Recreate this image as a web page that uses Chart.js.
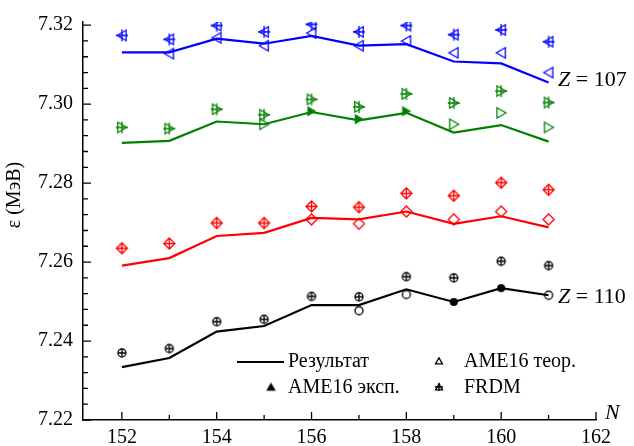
<!DOCTYPE html>
<html>
<head>
<meta charset="utf-8">
<script src="https://cdn.jsdelivr.net/npm/chart.js@4.4.1/dist/chart.umd.min.js"></script>
<style>
  html, body { margin: 0; padding: 0; background: #fff; }
</style>
</head>
<body>
<canvas id="chart" width="634" height="446"></canvas>
<script>
const N = [152, 153, 154, 155, 156, 157, 158, 159, 160, 161];

// Z = 107 (blue)
const res107  = [7.3131, 7.3131, 7.3166, 7.3153, 7.3173, 7.3148, 7.3152, 7.3108, 7.3103, 7.3055];
const teor107 = [null, 7.3128, 7.3168, 7.3148, 7.3180, 7.3148, 7.3160, 7.3130, 7.3130, 7.3080];
const frdm107 = [7.3174, 7.3164, 7.3199, 7.3183, 7.3202, 7.3183, 7.3199, 7.3176, 7.3188, 7.3158];

// Z = 108 (green)
const res108  = [7.2902, 7.2907, 7.2956, 7.2949, 7.2980, 7.2959, 7.2978, 7.2928, 7.2947, 7.2905];
const exp108  = [null, null, null, null, 7.2982, 7.2962, 7.2982, null, null, null];
const teor108 = [null, null, null, 7.2949, null, null, null, 7.2949, 7.2978, 7.2941];
const frdm108 = [7.2941, 7.2938, 7.2987, 7.2973, 7.3012, 7.2993, 7.3026, 7.3003, 7.3033, 7.3004];

// Z = 109 (red)
const res109  = [7.2591, 7.2610, 7.2666, 7.2674, 7.2712, 7.2708, 7.2728, 7.2697, 7.2716, 7.2688];
const teor109 = [null, null, null, null, 7.2708, 7.2697, 7.2728, 7.2708, 7.2728, 7.2708];
const frdm109 = [7.2635, 7.2647, 7.2699, 7.2699, 7.2741, 7.2739, 7.2774, 7.2768, 7.2801, 7.2783];

// Z = 110 (black)
const res110  = [7.2334, 7.2357, 7.2424, 7.2438, 7.2491, 7.2491, 7.2531, 7.2499, 7.2534, 7.2516];
const exp110  = [null, null, null, null, null, null, null, 7.2499, 7.2534, null];
const teor110 = [null, null, null, null, null, 7.2477, 7.2518, null, null, 7.2516];
const frdm110 = [7.2370, 7.2381, 7.2449, 7.2455, 7.2513, 7.2512, 7.2563, 7.2560, 7.2602, 7.2591];

const xTicks = [152, 154, 156, 158, 160, 162];
const xMinor = [153, 155, 157, 159, 161];
const yTicks = [7.22, 7.24, 7.26, 7.28, 7.30, 7.32];

const FONT = '"Liberation Serif", "Times New Roman", serif';

// small canvas markers: triangles, diamonds, circles, optionally filled or crossed
function marker(shape, color, fill, cross, size) {
  const c = document.createElement('canvas');
  c.width = c.height = size + 4;
  const g = c.getContext('2d');
  const m = c.width / 2, r = size / 2;
  g.strokeStyle = color;
  g.fillStyle = color;
  g.lineWidth = 1.3;
  g.beginPath();
  if (shape === 'circle') {
    g.arc(m, m, r, 0, Math.PI * 2);
  } else if (shape === 'diamond') {
    g.moveTo(m, m - r); g.lineTo(m + r, m); g.lineTo(m, m + r); g.lineTo(m - r, m);
    g.closePath();
  } else {
    const a = { left: Math.PI, right: 0, up: -Math.PI / 2 }[shape];
    const dx = shape === 'left' ? r * 0.2 : shape === 'right' ? -r * 0.2 : 0;
    const dy = shape === 'up' ? r * 0.2 : 0;
    for (let i = 0; i < 3; i++) {
      const t = a + i * 2 * Math.PI / 3;
      const px = m + r * Math.cos(t) + dx;
      const py = m + r * Math.sin(t) + dy;
      i ? g.lineTo(px, py) : g.moveTo(px, py);
    }
    g.closePath();
  }
  if (fill) g.fill(); else g.stroke();
  if (cross) {
    g.beginPath();
    g.moveTo(m - r, m); g.lineTo(m + r, m);
    g.moveTo(m, m - r); g.lineTo(m, m + r);
    g.stroke();
  }
  return c;
}

const BLUE = '#0000ff', GREEN = '#008000', RED = '#ff0000', BLACK = '#000000';

const pts = arr => N.map((n, i) => ({ x: n, y: arr[i] })).filter(p => p.y !== null);

function lineSet(arr, color) {
  return { data: pts(arr), showLine: true, borderColor: color, borderWidth: 2.2,
           pointRadius: 0, pointHoverRadius: 0, fill: false, order: 0 };
}
function markSet(arr, style) {
  return { data: pts(arr), showLine: false, pointStyle: style, pointRadius: 5,
           pointHoverRadius: 5, borderWidth: 0, order: 1 };
}

const datasets = [
  lineSet(res107, BLUE),
  markSet(teor107, marker('left', BLUE, false, false, 12)),
  markSet(frdm107, marker('left', BLUE, false, true, 12)),

  lineSet(res108, GREEN),
  markSet(exp108, marker('right', GREEN, true, false, 12)),
  markSet(teor108, marker('right', GREEN, false, false, 12)),
  markSet(frdm108, marker('right', GREEN, false, true, 12)),

  lineSet(res109, RED),
  markSet(teor109, marker('diamond', RED, false, false, 11)),
  markSet(frdm109, marker('diamond', RED, false, true, 11)),

  lineSet(res110, BLACK),
  markSet(exp110, marker('circle', BLACK, true, false, 8)),
  markSet(teor110, marker('circle', BLACK, false, false, 8)),
  markSet(frdm110, marker('circle', BLACK, false, true, 8)),
];

// inward tick marks, labels inside the plot and the legend
const decorations = {
  id: 'decorations',
  afterDraw(chart) {
    const ctx = chart.ctx, xs = chart.scales.x, ys = chart.scales.y;
    const left = chart.chartArea.left, bottom = chart.chartArea.bottom;
    ctx.save();
    ctx.strokeStyle = '#000';
    ctx.lineWidth = 1.3;
    ctx.beginPath();
    for (let i = 0; i < yTicks.length; i++) {
      const py = ys.getPixelForValue(yTicks[i]);
      ctx.moveTo(left, py); ctx.lineTo(left + 8, py);
      if (i < yTicks.length - 1) {
        for (let k = 1; k < 5; k++) {
          const v = yTicks[i] + (yTicks[i + 1] - yTicks[i]) * k / 5;
          const p = ys.getPixelForValue(v);
          ctx.moveTo(left, p); ctx.lineTo(left + 5, p);
        }
      }
    }
    xTicks.forEach(v => {
      const px = xs.getPixelForValue(v);
      ctx.moveTo(px, bottom); ctx.lineTo(px, bottom - 8);
    });
    xMinor.forEach(v => {
      const px = xs.getPixelForValue(v);
      ctx.moveTo(px, bottom); ctx.lineTo(px, bottom - 5);
    });
    ctx.stroke();

    ctx.fillStyle = '#000';
    ctx.textBaseline = 'middle';

    // axis titles
    ctx.font = 'italic 22px ' + FONT;
    ctx.fillText('N', 605, 413);
    ctx.save();
    ctx.translate(15, 195);
    ctx.rotate(-Math.PI / 2);
    ctx.textAlign = 'center';
    ctx.font = '20px ' + FONT;
    ctx.fillText('ε (МэВ)', 0, 0);
    ctx.restore();

    // Z labels
    const zLabel = (txt, x, y) => {
      ctx.font = 'italic 22px ' + FONT;
      ctx.fillText('Z', x, y);
      const w = ctx.measureText('Z').width;
      ctx.font = '22px ' + FONT;
      ctx.fillText(' = ' + txt, x + w, y);
    };
    zLabel('107', 558, 80);
    zLabel('110', 558, 297);

    // legend
    ctx.font = '20px ' + FONT;
    ctx.beginPath();
    ctx.lineWidth = 2;
    ctx.moveTo(237, 362); ctx.lineTo(284, 362);
    ctx.stroke();
    ctx.fillText('Результат', 288, 362);
    ctx.fillText('AME16 теор.', 464, 362);
    ctx.fillText('AME16 эксп.', 288, 388);
    ctx.fillText('FRDM', 464, 388);
    const put = (img, x, y) => ctx.drawImage(img, x - img.width / 2, y - img.height / 2);
    put(marker('up', BLACK, false, false, 8), 439, 361);
    put(marker('up', BLACK, true, false, 11), 271, 387);
    put(marker('up', BLACK, false, true, 8), 439, 387);
    ctx.restore();
  }
};

new Chart(document.getElementById('chart').getContext('2d'), {
  type: 'scatter',
  data: { datasets: datasets },
  options: {
    responsive: false,
    animation: false,
    devicePixelRatio: 1,
    layout: { padding: { top: 15, right: 38, left: 0, bottom: 0 } },
    plugins: { legend: { display: false }, tooltip: { enabled: false } },
    scales: {
      x: {
        type: 'linear',
        min: 151.18,
        max: 162,
        grid: { display: false, drawTicks: false },
        border: { display: true, color: '#000', width: 1.5 },
        afterBuildTicks: s => { s.ticks = xTicks.map(v => ({ value: v })); },
        afterFit: s => { s.height = 26; },
        ticks: { color: '#000', font: { family: FONT, size: 20 }, padding: 6,
                 maxRotation: 0, autoSkip: false, callback: v => String(v) }
      },
      y: {
        type: 'linear',
        min: 7.22,
        max: 7.3208,
        grid: { display: false, drawTicks: false },
        border: { display: true, color: '#000', width: 1.5 },
        afterBuildTicks: s => { s.ticks = yTicks.map(v => ({ value: v })); },
        afterFit: s => { s.width = 83; },
        ticks: { color: '#000', font: { family: FONT, size: 20 }, padding: 10,
                 autoSkip: false, callback: v => v.toFixed(2) }
      }
    }
  },
  plugins: [decorations]
});
</script>
</body>
</html>
